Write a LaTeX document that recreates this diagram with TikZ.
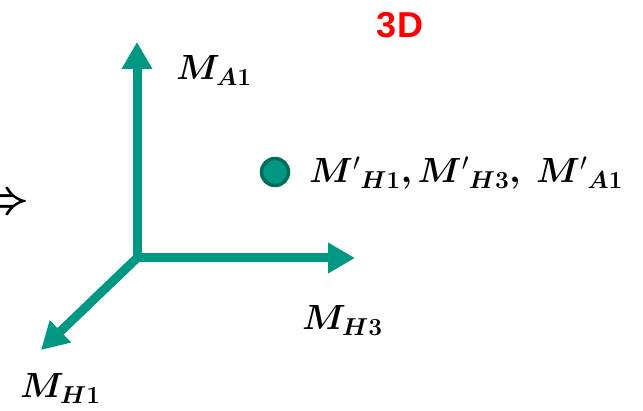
\documentclass[tikz,border=0pt]{standalone}
\usepackage{fix-cm}
\usepackage{fontspec}
\usepackage{bm}
\newfontfamily\labelsans{Liberation Sans}
\usetikzlibrary{arrows.meta}
\definecolor{axisteal}{RGB}{0,152,130}
\definecolor{dotrim}{RGB}{0,108,90}
\tikzset{
  axis/.style={draw=axisteal,line width=9pt,-{Triangle[length=27pt,width=29pt]}},
  lbl/.style={anchor=base west,inner sep=0pt,font=\fontsize{35}{42}\selectfont},
}

\begin{document}
\begin{tikzpicture}[x=1pt,y=-1pt]
\useasboundingbox (0,0) rectangle (643,411);
\coordinate (O) at (137,258);
\coordinate (A1) at (137,42);
\coordinate (H3) at (355,258);
\coordinate (H1) at (41,350);
\draw[axis] (O) -- (A1);
\draw[axis] (O) -- (H3);
\draw[axis] (O) -- (H1);
\node[lbl] (lA1) at (176,80) {$\bm{M}_{\bm{A1}}$};
\node[lbl] (lH3) at (302,330) {$\bm{M}_{\bm{H3}}$};
\node[lbl] (lH1) at (20,398) {$\bm{M}_{\bm{H1}}$};
\node[circle,fill=axisteal,draw=dotrim,line width=3.5pt,minimum size=27pt,inner sep=0pt] (pt) at (275,172) {};
\node[lbl] (lpt) at (309,183) {${\bm{M}'}_{\bm{H1}}\bm{,}{\bm{M}'}_{\bm{H3}}\bm{,}\;{\bm{M}'}_{\bm{A1}}$};
\node[text=red,font=\labelsans\bfseries\fontsize{36}{43}\selectfont,inner sep=0pt] (dim) at (400,25) {3D};
\node[anchor=east,inner sep=0pt,font=\fontsize{48}{56}\selectfont] (impl) at (30,204) {$\bm{\Rightarrow}$};
\end{tikzpicture}
\end{document}
